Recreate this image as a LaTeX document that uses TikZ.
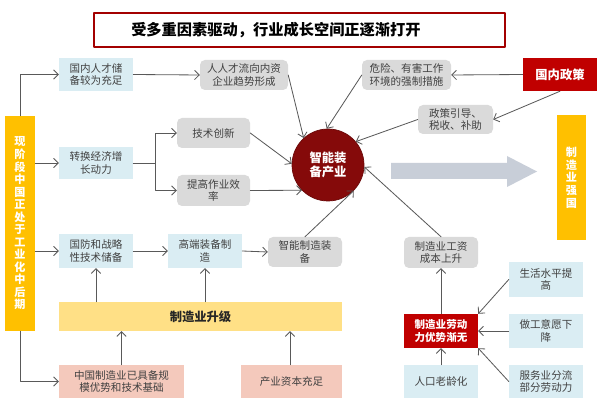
\documentclass[tikz,border=0pt]{standalone}
\usepackage{fontspec}
\setmainfont{Noto Sans CJK SC}
\usetikzlibrary{arrows.meta}
\definecolor{ink}{HTML}{404040}
\definecolor{wire}{HTML}{595959}
\definecolor{sky}{HTML}{DAEDF3}
\definecolor{stone}{HTML}{DADADA}
\definecolor{crimson}{HTML}{C00000}
\definecolor{maroon}{HTML}{850A0A}
\definecolor{gold}{HTML}{FFC000}
\definecolor{sand}{HTML}{FFE086}
\definecolor{blush}{HTML}{F4C9BC}
\definecolor{slate}{HTML}{C8CED8}

\tikzset{
  wh/.style 2 args={minimum width=#1*0.03cm,minimum height=#2*0.03cm},
  base/.style={inner sep=0pt,align=center,text=ink,font=\fontsize{9}{10.5}\selectfont},
  sky box/.style={base,fill=sky,wh={74}{33}},
  stone box/.style={base,fill=stone,rounded corners=1.5mm,wh={74}{30}},
  blush box/.style={base,fill=blush,wh={#1}{33}},
  red box/.style={base,fill=crimson,text=white,font=\fontsize{9}{10.5}\selectfont\bfseries,wh={74}{34}},
  gold bar/.style={inner sep=0pt,align=center,fill=gold,text=white},
  link/.style={draw=wire,line width=0.7pt,-{Straight Barb[length=1.4mm,width=2.8mm]}},
  plain link/.style={draw=wire,line width=0.7pt},
}

\begin{document}
\begin{tikzpicture}[x=0.03cm,y=-0.03cm,line cap=round,line join=round]
  \path[use as bounding box,fill=white] (0,0) rectangle (600,405);

  % Headline frame; its text sits left of the frame's centre.
  \node[draw=crimson!85!black,line width=1.5pt,fill=white,wh={411}{34}] (title) at (299.5,30) {};
  \node[anchor=west,xshift=34*0.03cm,font=\fontsize{13}{15}\selectfont\bfseries,text=black]
    (headline) at (title.west) {受多重因素驱动，行业成长空间正逐渐打开};

  % Two vertical gold bars: starting stage and goal.
  \node[gold bar,wh={30}{215},font=\fontsize{9.5}{10.7}\selectfont\bfseries] (stage) at (20,223.5)
    {现\\阶\\段\\中\\国\\正\\处\\于\\工\\业\\化\\中\\后\\期};
  \node[gold bar,wh={29}{125},font=\fontsize{9.5}{10.8}\selectfont\bfseries] (goal) at (571.5,177.5)
    {制\\造\\业\\强\\国};

  % Core industry.
  \node[circle,fill=maroon,draw=maroon!80!black,line width=0.6pt,inner sep=0pt,wh={72}{72},
    text=white,align=center,font=\fontsize{10.5}{12.5}\selectfont\bfseries] (core) at (328,165)
    {智能装\\备产业};

  % Upper row.
  \node[sky box] (talent) at (96,74.5) {国内人才储\\备较为充足};
  \node[stone box,wh={88}{30}] (flow) at (244,75) {人人才流向内资\\企业趋势形成};
  \node[stone box,wh={89}{30}] (hazard) at (406.5,75) {危险、有害工作\\环境的强制措施};
  \node[red box,wh={74}{33},font=\fontsize{10.5}{12}\selectfont\bfseries] (policy) at (560,74.5) {国内政策};
  \node[stone box,wh={75}{29}] (guide) at (455.5,119.5) {政策引导、\\税收、补助};

  % Middle row.
  \node[sky box,wh={74}{32}] (shift) at (96,163) {转换经济增\\长动力};
  \node[stone box,wh={73}{30}] (innov) at (213.5,133) {技术创新};
  \node[stone box,wh={73}{31}] (effic) at (213.5,190.5) {提高作业效\\率};
  \coordinate (split) at (155,163);

  % Lower row.
  \node[sky box,wh={74}{34}] (defense) at (96,251) {国防和战略\\性技术储备};
  \node[sky box,wh={74}{34}] (highend) at (205,251) {高端装备制\\造};
  \node[stone box] (smart) at (305,252) {智能制造装\\备};
  \node[stone box,wh={74}{31}] (wage) at (441,252.5) {制造业工资\\成本上升};

  % Upgrade band and its two sources.
  \node[base,fill=sand,wh={283}{29},font=\fontsize{10.5}{12}\selectfont\bfseries,text=black!85]
    (upgrade) at (200.5,316.5) {制造业升级};
  \node[blush box=125] (scale) at (121.5,381.5) {中国制造业已具备规\\模优势和技术基础};
  \node[blush box=101] (capital) at (291.5,381.5) {产业资本充足};

  % Labour cluster.
  \node[red box] (labour) at (441,331) {制造业劳动\\力优势渐无};
  \node[sky box] (aging) at (441,381.5) {人口老龄化};
  \node[sky box,wh={74}{34}] (living) at (546,279.5) {生活水平提\\高};
  \node[sky box,wh={74}{34}] (will) at (546,331) {做工意愿下\\降};
  \node[sky box] (service) at (546,381.5) {服务业分流\\部分劳动力};

  % Broad grey arrow towards the goal.
  \fill[slate] (391,163) -- (507,163) -- (507,156) -- (537,171.5) -- (507,187) -- (507,179)
    -- (391,179) -- cycle;

  % Connectors.
  \draw[link] (stage.north) |- (talent.west);
  \draw[link] (shift.west -| stage.east) -- (shift.west);
  \draw[link] (defense.west -| stage.east) -- (defense.west);
  \draw[link] (stage.south) |- (scale.west);

  \draw[link] (talent.east) -- (flow.west);
  \draw[link] (flow.east) -- (core.132);
  \draw[link] (policy.west) -- (hazard.east);
  \draw[link] (hazard.west) -- (core.92);
  \draw[link] (policy.south) -- (guide.east);
  \draw[link] (guide.west) -- (core.40);

  \draw[plain link] (shift.east) -- (split);
  \draw[link] (split) |- (innov.west);
  \draw[link] (split) |- (effic.west);
  \draw[link] (innov.east) -- (core.178);
  \draw[link] (effic.east) -- (core.224);

  \draw[link] (defense.east) -- (highend.west);
  \draw[link] (highend.east) -- (smart.west);
  \draw[link] (smart.north) -- (core.-45);
  \draw[link] (wage.north) -- (core.-3);

  \draw[link] (defense.south |- upgrade.north) -- (defense.south);
  \draw[link] (highend.south |- upgrade.north) -- (highend.south);
  \draw[link] (scale.north) -- (scale.north |- upgrade.south);
  \draw[link] (capital.north -| 290,0) -- (upgrade.south -| 290,0);

  \draw[link] (labour.north) -- (wage.south);
  \draw[link] (aging.north) -- (labour.south);
  \draw[link] (living.west) -- (labour.north east);
  \draw[link] (will.west) -- (labour.east);
  \draw[link] (service.west) -- (labour.south east);
\end{tikzpicture}
\end{document}
